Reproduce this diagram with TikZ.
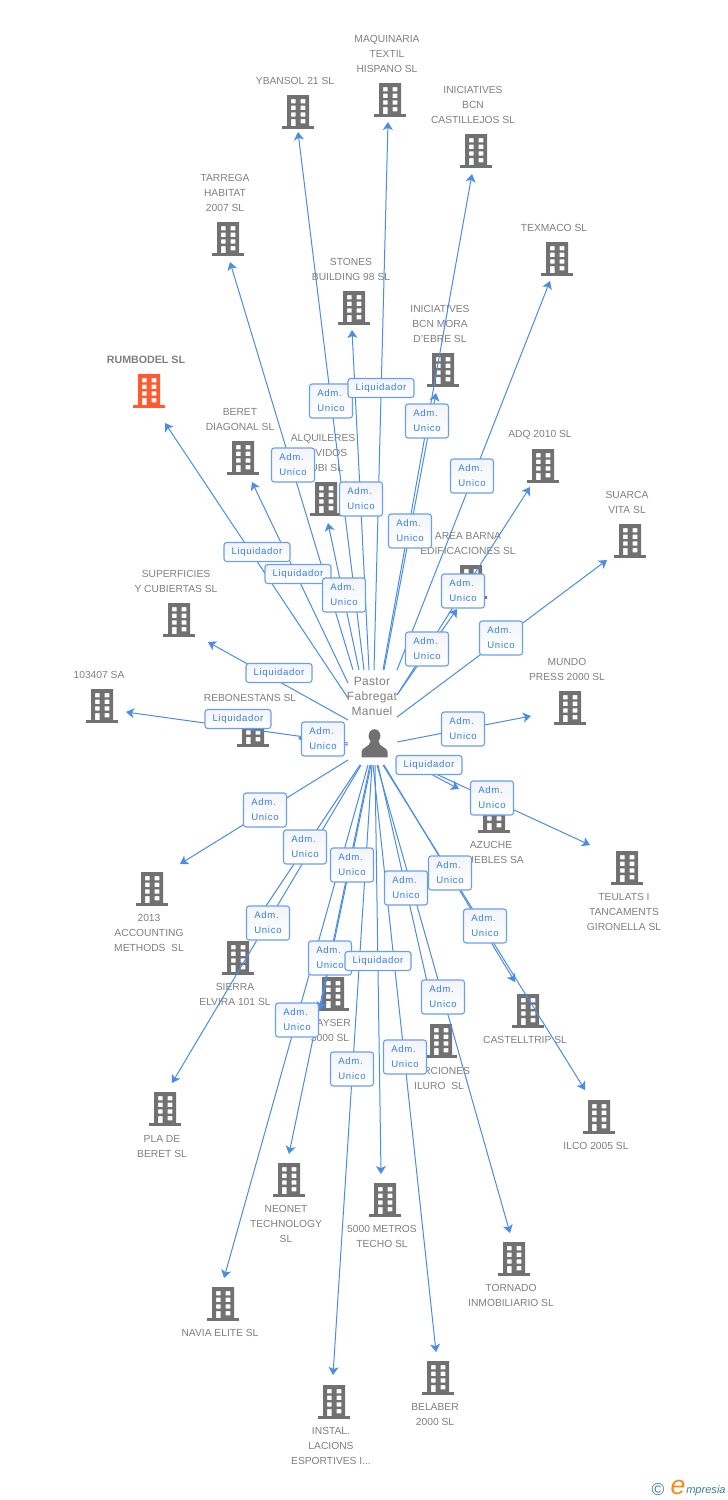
\documentclass[tikz,border=0pt]{standalone}
\usepackage{fontspec}
\setmainfont{Liberation Sans}
\newfontfamily\lblfont[LetterSpace=7]{Liberation Sans}
\newfontfamily\perfont[LetterSpace=2.5]{Liberation Sans}
\usetikzlibrary{arrows.meta}
\definecolor{bgray}{HTML}{717171}
\definecolor{tgray}{HTML}{808080}
\definecolor{bred}{HTML}{FF5A30}
\definecolor{lblue}{HTML}{4A8CE6}
\definecolor{boxb}{HTML}{6AA0EA}
\definecolor{boxt}{HTML}{3A7FDC}
\definecolor{teal}{HTML}{3F7F96}
\definecolor{orng}{HTML}{F58A1F}
\tikzset{
  x=0.75pt,y=-0.75pt,
  bldbox/.style={inner sep=0pt,minimum width=24pt,minimum height=25.5pt,draw=none},
  nm/.style={font=\fontsize{7.7}{11.25}\selectfont,text=tgray,align=center,inner sep=0pt,yshift=-0.1pt},
  conn/.style={draw=lblue,line width=0.75pt,-{Stealth[length=6pt,width=7.5pt,inset=1.6pt]}},
  lbox/.style={draw=boxb,line width=0.85pt,rounded corners=2pt,top color=boxtop,bottom color=white,
     text=boxt,inner sep=0pt,font=\lblfont\fontsize{7.2}{11.25}\selectfont},
  admbox/.style={lbox,minimum width=32.25pt,minimum height=25.5pt,align=left},
  liqbox/.style={lbox,minimum width=49.5pt,minimum height=14.25pt},
}
\definecolor{boxtop}{HTML}{F2F4F8}
\newcommand{\bldg}[4]{%
  \node[bldbox] (#1) at (#2,#3) {};
  \fill[#4,even odd rule,shift={(#1.center)}]
    (-11,-17) rectangle (11,14.5)
    (-7,-13) rectangle (-2.3,-8.7) (2.5,-13) rectangle (7.3,-8.7)
    (-7,-6.3) rectangle (-2.3,-2) (2.5,-6.3) rectangle (7.3,-2)
    (-7,0.3) rectangle (-2.3,4.7) (2.5,0.3) rectangle (7.3,4.7)
    (-7,7) rectangle (-2.3,14.5) (2.5,7) rectangle (7.3,11.3);
  \fill[#4,shift={(#1.center)}] (-16,14.2) rectangle (16,17);
}
\newcommand{\cn}[5]{%
  \coordinate (s#1) at (#2,#3);
  \coordinate (e#1) at (#4,#5);
  \draw[conn] (s#1) -- (e#1);
}
\begin{document}
\begin{tikzpicture}
\useasboundingbox (0,0) rectangle (728,1500);
\fill[white] (0,0) rectangle (728,1500);
% buildings
\bldg{ybansol}{298}{112}{bgray}
\bldg{maq}{390}{100}{bgray}
\bldg{cast}{476}{151}{bgray}
\bldg{texm}{557}{259}{bgray}
\bldg{tarr}{228}{239}{bgray}
\bldg{ston}{354}{308}{bgray}
\bldg{mora}{443}{370}{bgray}
\bldg{rumb}{149}{391}{bred}
\bldg{bere}{243}{458}{bgray}
\bldg{alqu}{326}{499}{bgray}
\bldg{adq}{543}{466}{bgray}
\bldg{suar}{630}{541}{bgray}
\bldg{area}{471}{582}{bgray}
\bldg{supe}{179}{620}{bgray}
\bldg{n103}{102}{706}{bgray}
\bldg{rebo}{253}{730}{bgray}
\bldg{mund}{570}{708}{bgray}
\bldg{azuc}{494}{816}{bgray}
\bldg{teul}{627}{868}{bgray}
\bldg{acco}{152}{889}{bgray}
\bldg{sier}{238}{958}{bgray}
\bldg{rays}{333}{994}{bgray}
\bldg{marc}{441}{1041}{bgray}
\bldg{ctri}{528}{1011}{bgray}
\bldg{ilco}{599}{1117}{bgray}
\bldg{plab}{165}{1109}{bgray}
\bldg{neon}{289}{1180}{bgray}
\bldg{metr}{385}{1200}{bgray}
\bldg{torn}{514}{1259}{bgray}
\bldg{navi}{223}{1304}{bgray}
\bldg{inst}{334}{1402}{bgray}
\bldg{bela}{438}{1378}{bgray}
% names
\node[nm] (tybansol) at (295,81) {YBANSOL 21 SL};
\node[nm] (tmaq) at (387,54) {MAQUINARIA\\TEXTIL\\HISPANO SL};
\node[nm] (tcast) at (473,105) {INICIATIVES\\BCN\\CASTILLEJOS SL};
\node[nm] (ttexm) at (554,228) {TEXMACO SL};
\node[nm] (ttarr) at (225,193) {TARREGA\\HABITAT\\2007 SL};
\node[nm] (tston) at (351,269.5) {STONES\\BUILDING 98 SL};
\node[nm] (tmora) at (440,324) {INICIATIVES\\BCN MORA\\D'EBRE SL};
\node[nm,font=\fontsize{8}{11.25}\selectfont\bfseries] (trumb) at (146,360) {RUMBODEL SL};
\node[nm] (tbere) at (240,419.5) {BERET\\DIAGONAL SL};
\node[nm] (talqu) at (323,453) {ALQUILERES\\MOVIDOS\\RUBI SL};
\node[nm] (tadq) at (540,435) {ADQ 2010 SL};
\node[nm] (tsuar) at (627,502.5) {SUARCA\\VITA SL};
\node[nm] (tarea) at (468,543.5) {AREA BARNA\\EDIFICACIONES SL};
\node[nm] (tsupe) at (176,581.5) {SUPERFICIES\\Y CUBIERTAS SL};
\node[nm] (tn103) at (99,675) {103407 SA};
\node[nm] (trebo) at (250,698) {REBONESTANS SL};
\node[nm] (tmund) at (567,669.5) {MUNDO\\PRESS 2000 SL};
\node[nm] (tazuc) at (491,852.5) {AZUCHE\\MUEBLES SA};
\node[nm] (tteul) at (624,912) {TEULATS I\\TANCAMENTS\\GIRONELLA SL};
\node[nm] (tacco) at (149,933) {2013\\ACCOUNTING\\METHODS\ \ SL};
\node[nm] (tsier) at (235,994.5) {SIERRA\\ELVIRA 101 SL};
\node[nm] (trays) at (330,1030.5) {RAYSER\\3000 SL};
\node[nm] (tmarc) at (439,1078.5) {MARCIONES\\ILURO\ \ SL};
\node[nm] (tctri) at (525,1040) {CASTELLTRIP SL};
\node[nm] (tilco) at (596,1146) {ILCO 2005 SL};
\node[nm] (tplab) at (162,1146.5) {PLA DE\\BERET SL};
\node[nm] (tneon) at (286,1224) {NEONET\\TECHNOLOGY\\SL};
\node[nm] (tmetr) at (382,1236.5) {5000 METROS\\TECHO SL};
\node[nm] (ttorn) at (511,1295.5) {TORNADO\\INMOBILIARIO SL};
\node[nm] (tnavi) at (220,1333) {NAVIA ELITE SL};
\node[nm] (tinst) at (331,1446) {INSTAL.\\LACIONS\\ESPORTIVES I...};
\node[nm] (tbela) at (435,1414.5) {BELABER\\2000 SL};
% person
\node[inner sep=0pt,minimum width=20.25pt,minimum height=15pt] (p) at (374.5,745) {};
\fill[bgray,shift={(p.center)}] (0,-9) ellipse (5.9 and 6.8);
\fill[bgray,shift={(p.center)}] (-13,12.3) -- (-13,6.5) .. controls (-13,2.5) and (-5,2.5) .. (-3.8,-4) -- (3.8,-4) .. controls (5,2.5) and (13,2.5) .. (13,6.5) -- (13,12.3) -- cycle;
\node[font=\perfont\fontsize{9}{11.25}\selectfont,text=tgray,align=center,inner sep=0pt] (pname) at (372,696) {Pastor\\Fabregat\\Manuel};
% connectors
\cn{ybansol}{364}{670}{298}{132}
\cn{maq}{374}{670}{388}{122}
\cn{cast}{383}{670}{472}{174}
\cn{texm}{397}{670}{550}{281}
\cn{tarr}{353}{670}{230}{262}
\cn{ston}{369}{670}{352}{330}
\cn{mora}{384}{670}{436}{393}
\cn{rumb}{348}{698}{165}{423}
\cn{bere}{348}{683}{252}{482}
\cn{alqu}{359}{670}{328}{523}
\cn{adq}{397}{695}{530}{487}
\cn{suar}{397}{717}{607}{560}
\cn{area}{397}{695}{457}{609}
\cn{supe}{348}{720}{208}{642}
\cn{n103}{348}{743}{126}{712}
\cn{rebo}{348}{745}{298}{738}
\cn{mund}{397}{742}{531}{716}
\cn{azuc}{397}{756}{459}{789}
\cn{teul}{397}{756}{590}{845}
\cn{acco}{348}{760}{180}{864}
\cn{sier}{360}{765}{258}{918}
\cn{plab}{361}{765}{172}{1083}
\cn{rays}{371}{765}{320}{1010}
\cn{navi}{368}{765}{224}{1278}
\cn{neon}{370}{765}{289}{1154}
\cn{metr}{375}{765}{381}{1174}
\cn{inst}{372}{765}{333}{1375}
\cn{bela}{373}{765}{436}{1352}
\cn{marc}{378}{765}{430}{995}
\cn{torn}{377}{765}{510}{1233}
\cn{ctri}{384}{765}{515}{982}
\cn{ilco}{383}{765}{585}{1090}
% labels
\node[admbox] (l1) at (331,401) {Adm.\\Unico};
\node[liqbox] (l2) at (381,388) {Liquidador};
\node[admbox] (l3) at (427,421) {Adm.\\Unico};
\node[admbox] (l4) at (293,465) {Adm.\\Unico};
\node[admbox] (l5) at (361,499) {Adm.\\Unico};
\node[admbox] (l6) at (472,476) {Adm.\\Unico};
\node[admbox] (l7) at (410,531) {Adm.\\Unico};
\node[liqbox] (l8) at (257,552) {Liquidador};
\node[liqbox] (l9) at (298,574) {Liquidador};
\node[admbox] (l10) at (344,595) {Adm.\\Unico};
\node[admbox] (l11) at (463,591) {Adm.\\Unico};
\node[admbox] (l12) at (427,649) {Adm.\\Unico};
\node[admbox] (l13) at (501,638) {Adm.\\Unico};
\node[liqbox] (l14) at (279,673) {Liquidador};
\node[liqbox] (l15) at (238,719) {Liquidador};
\node[admbox] (l16) at (323,739) {Adm.\\Unico};
\node[admbox] (l17) at (463,729) {Adm.\\Unico};
\node[liqbox] (l18) at (429,765) {Liquidador};
\node[admbox] (l19) at (492,798) {Adm.\\Unico};
\node[admbox] (l20) at (265,810) {Adm.\\Unico};
\node[admbox] (l21) at (305,847) {Adm.\\Unico};
\node[admbox] (l22) at (352,865) {Adm.\\Unico};
\node[admbox] (l23) at (450,873) {Adm.\\Unico};
\node[admbox] (l24) at (406,888) {Adm.\\Unico};
\node[admbox] (l25) at (485,926) {Adm.\\Unico};
\node[admbox] (l26) at (268,923) {Adm.\\Unico};
\node[admbox] (l27) at (330,958) {Adm.\\Unico};
\node[liqbox] (l28) at (378,961) {Liquidador};
\node[admbox] (l29) at (443,997) {Adm.\\Unico};
\node[admbox] (l30) at (297,1020) {Adm.\\Unico};
\node[admbox] (l31) at (405,1057) {Adm.\\Unico};
\node[admbox] (l32) at (352,1069) {Adm.\\Unico};
% logo
\node[inner sep=0pt,text=teal,font=\fontsize{13}{13}\selectfont] (copy) at (658,1489) {©};
\node[inner sep=0pt,text=orng,font=\fontsize{20}{20}\selectfont\itshape] (loge) at (678,1487) {e};
\node[inner sep=0pt,anchor=west,text=teal,font=\fontsize{8.3}{10}\selectfont\itshape] (logt) at (686,1491) {mpresia};
\end{tikzpicture}
\end{document}
